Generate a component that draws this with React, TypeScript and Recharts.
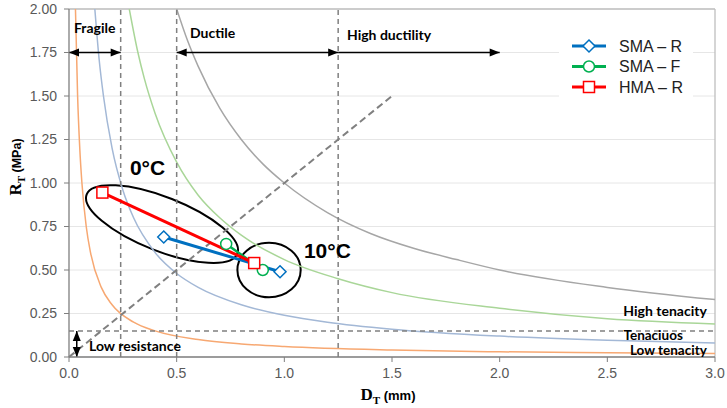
import { LineChart, Line, XAxis, YAxis, CartesianGrid, ReferenceLine, ReferenceArea, ReferenceDot } from "recharts";

const X_TICKS = [0, 0.5, 1, 1.5, 2, 2.5, 3];
const Y_TICKS = [0, 0.25, 0.5, 0.75, 1, 1.25, 1.5, 1.75, 2];

// tenacity curves
const LOW_D = [0.03, 0.04, 0.05, 0.06, 0.08, 0.1, 0.15, 0.2, 0.3, 0.4, 0.6, 0.8, 1.0, 1.5, 2.0, 2.5, 3.0];
const LOW_R = [2.0, 1.5, 1.2, 1.0, 0.75, 0.6, 0.4, 0.3, 0.2, 0.15, 0.1, 0.075, 0.06, 0.04, 0.03, 0.024, 0.02];
const TEN_D = [0.12, 0.14, 0.16, 0.2, 0.25, 0.3, 0.4, 0.5, 0.6, 0.8, 1.0, 1.2, 1.5, 2.0, 2.5, 3.0];
const TEN_R = [2.0, 1.71, 1.5, 1.2, 0.96, 0.8, 0.6, 0.48, 0.4, 0.3, 0.24, 0.2, 0.16, 0.12, 0.096, 0.08];
const HIGH_D = [0.28, 0.32, 0.35, 0.4, 0.5, 0.6, 0.7, 0.8, 1.0, 1.25, 1.5, 2.0, 2.5, 3.0];
const HIGH_R = [2.0, 1.75, 1.6, 1.4, 1.12, 0.93, 0.8, 0.7, 0.56, 0.45, 0.37, 0.28, 0.22, 0.19];
const TOP_D = [0.5, 0.55, 0.6, 0.7, 0.8, 0.9, 1.0, 1.2, 1.4, 1.6, 1.8, 2.0, 2.5, 3.0];
const TOP_R = [2.0, 1.82, 1.67, 1.43, 1.25, 1.11, 1.0, 0.83, 0.71, 0.625, 0.56, 0.5, 0.4, 0.33];

// mixtures
const SERIES_NAMES = ["SMA – R", "SMA – F", "HMA – R"];
const SMA_R_D = [0.44, 0.98];
const SMA_R_R = [0.69, 0.49];
const SMA_F_D = [0.73, 0.9];
const SMA_F_R = [0.65, 0.5];
const HMA_R_D = [0.155, 0.86];
const HMA_R_R = [0.945, 0.54];

// zone limits
const DUCT_LIMITS = [0.24, 0.5, 1.25];
const LOW_RES_LIMIT = 0.15;
const DIAG_END = 1.5;

// arrows
const ARROW_D1 = [0, 0.5, 1.25, 0.036];
const ARROW_D2 = [0.24, 1.25, 2.0, 0.036];
const ARROW_R1 = [1.75, 1.75, 1.75, 0];
const ARROW_R2 = [1.75, 1.75, 1.75, 0.15];
const ARROW_BOTH = [true, true, false, true];

// zone labels
const NOTE_TEXT = ["Fragile", "Ductile", "High ductility", "Low resistance", "High tenacity", "Tenaciuos", "Low tenacity"];
const NOTE_D = [0.023, 0.562, 1.291, 0.093, 2.962, 2.575, 2.962];
const NOTE_R = [1.862, 1.833, 1.822, 0.034, 0.236, 0.1, 0.012];
const NOTE_END = [false, false, false, false, true, false, true];

// temperature groups
const TEMP_TEXT = ["0°C", "10°C"];
const TEMP_D = [0.283, 1.091];
const TEMP_R = [1.046, 0.569];
const ELL_D1 = [0.056, 0.782];
const ELL_D2 = [0.808, 1.076];
const ELL_R1 = [0.609, 0.343];
const ELL_R2 = [0.919, 0.657];
const ELL_ANGLE = [21.5, 0];

const pts = (d: number[], r: number[]) => d.map((x, i) => ({ d: x, r: r[i] }));

const C_BLUE = "#0070C0";
const C_GREEN = "#00B050";
const C_RED = "#FF0000";
const SERIES_COLORS = [C_BLUE, C_GREEN, C_RED];
const NOTE_FONT = "Lato, 'Open Sans', sans-serif";
const AX_FONT = "'Liberation Sans', Arial, sans-serif";

function Marker({ kind, cx, cy, color }: any) {
  if (kind === 0)
    return <path d={`M${cx},${cy - 6} L${cx + 6},${cy} L${cx},${cy + 6} L${cx - 6},${cy} Z`} fill="#fff" stroke={color} strokeWidth={1.5} />;
  if (kind === 1) return <circle cx={cx} cy={cy} r={5.5} fill="#fff" stroke={color} strokeWidth={1.5} />;
  return <rect x={cx - 5.5} y={cy - 5.5} width={11} height={11} fill="#fff" stroke={color} strokeWidth={1.5} />;
}

function Arrow({ x1, y1, x2, y2, both }: any) {
  const len = Math.hypot(x2 - x1, y2 - y1) || 1;
  const ux = (x2 - x1) / len;
  const uy = (y2 - y1) / len;
  const head = (x: number, y: number, dx: number, dy: number) => {
    const bx = x - dx * 10;
    const by = y - dy * 10;
    return `${x},${y} ${bx - dy * 4},${by + dx * 4} ${bx + dy * 4},${by - dx * 4}`;
  };
  return (
    <g>
      <line x1={x1} y1={y1} x2={x2} y2={y2} stroke="#000" strokeWidth={1.5} />
      <polygon points={head(x2, y2, ux, uy)} fill="#000" />
      {both && <polygon points={head(x1, y1, -ux, -uy)} fill="#000" />}
    </g>
  );
}

export default function App() {
  const series = [pts(SMA_R_D, SMA_R_R), pts(SMA_F_D, SMA_F_R), pts(HMA_R_D, HMA_R_R)];
  const curves = [
    { data: pts(LOW_D, LOW_R), color: "#F7A872" },
    { data: pts(TEN_D, TEN_R), color: "#A3B8D6" },
    { data: pts(HIGH_D, HIGH_R), color: "#A9D698" },
    { data: pts(TOP_D, TOP_R), color: "#A6A6A6" },
  ];

  return (
    <div style={{ position: "absolute", left: 0, top: 0, width: 727, height: 408, background: "#fff" }}>
      <LineChart width={727} height={408} margin={{ top: 9, right: 12, left: 0, bottom: 0 }}>
        <CartesianGrid vertical={false} stroke="#E6E6E6" />
        <XAxis
          dataKey="d"
          type="number"
          domain={[0, 3]}
          ticks={X_TICKS}
          tickFormatter={(v) => v.toFixed(1)}
          height={51}
          tickSize={5}
          tickMargin={6}
          axisLine={{ stroke: "#7F7F7F", strokeWidth: 1.3 }}
          tickLine={{ stroke: "#7F7F7F" }}
          tick={{ fontSize: 14, fill: "#595959", fontFamily: AX_FONT }}
          allowDataOverflow
        />
        <YAxis
          type="number"
          domain={[0, 2]}
          ticks={Y_TICKS}
          tickFormatter={(v) => v.toFixed(2)}
          width={69}
          tickSize={5}
          tickMargin={7}
          axisLine={{ stroke: "#7F7F7F", strokeWidth: 1.3 }}
          tickLine={{ stroke: "#7F7F7F" }}
          tick={{ fontSize: 14, fill: "#595959", fontFamily: AX_FONT }}
          allowDataOverflow
        />
        <ReferenceLine y={2} stroke="#BFBFBF" strokeWidth={1.3} />
        <ReferenceLine x={3} stroke="#BFBFBF" strokeWidth={1.3} />

        {curves.map((c, i) => (
          <Line
            key={"c" + i}
            data={c.data}
            dataKey="r"
            type="monotone"
            stroke={c.color}
            strokeWidth={1.5}
            dot={false}
            activeDot={false}
            isAnimationActive={false}
          />
        ))}

        {DUCT_LIMITS.map((d) => (
          <ReferenceLine key={"v" + d} x={d} stroke="#808080" strokeWidth={1.5} strokeDasharray="5 4" />
        ))}
        <ReferenceLine y={LOW_RES_LIMIT} stroke="#808080" strokeWidth={1.5} strokeDasharray="5 4" />
        <ReferenceLine
          segment={[{ x: 0, y: 0 }, { x: DIAG_END, y: DIAG_END }]}
          stroke="#808080"
          strokeWidth={2}
          strokeDasharray="7 4"
        />

        {ARROW_D1.map((d, i) => (
          <ReferenceLine
            key={"a" + i}
            segment={[{ x: d, y: ARROW_R1[i] }, { x: ARROW_D2[i], y: ARROW_R2[i] }]}
            shape={(p: any) => <Arrow {...p} both={ARROW_BOTH[i]} />}
          />
        ))}

        {NOTE_TEXT.map((t, i) => (
          <ReferenceDot
            key={"n" + i}
            x={NOTE_D[i]}
            y={NOTE_R[i]}
            shape={(p: any) => (
              <text
                x={p.cx}
                y={p.cy}
                textAnchor={NOTE_END[i] ? "end" : "start"}
                fontFamily={NOTE_FONT}
                fontWeight={700}
                fontSize={i >= 5 ? 13.5 : 14}
                fill="#000"
              >
                {t}
              </text>
            )}
          />
        ))}

        {TEMP_TEXT.map((t, i) => (
          <ReferenceArea
            key={"e" + i}
            x1={ELL_D1[i]}
            x2={ELL_D2[i]}
            y1={ELL_R1[i]}
            y2={ELL_R2[i]}
            shape={(p: any) => {
              const cx = p.x + p.width / 2;
              const cy = p.y + p.height / 2;
              return (
                <ellipse
                  cx={cx}
                  cy={cy}
                  rx={Math.abs(p.width) / 2}
                  ry={Math.abs(p.height) / 2}
                  transform={`rotate(${ELL_ANGLE[i]} ${cx} ${cy})`}
                  fill="none"
                  stroke="#000"
                  strokeWidth={2}
                />
              );
            }}
          />
        ))}
        {TEMP_TEXT.map((t, i) => (
          <ReferenceDot
            key={"t" + i}
            x={TEMP_D[i]}
            y={TEMP_R[i]}
            shape={(p: any) => (
              <text x={p.cx} y={p.cy} fontFamily={AX_FONT} fontWeight={700} fontSize={21} fill="#000">
                {t}
              </text>
            )}
          />
        ))}

        {series.map((s, i) => (
          <Line
            key={"s" + i}
            data={s}
            dataKey="r"
            name={SERIES_NAMES[i]}
            type="linear"
            stroke={SERIES_COLORS[i]}
            strokeWidth={i === 1 ? 2.5 : 3}
            dot={(p: any) => <Marker key={p.index} kind={i} cx={p.cx} cy={p.cy} color={SERIES_COLORS[i]} />}
            activeDot={false}
            isAnimationActive={false}
          />
        ))}
      </LineChart>

      {/* axis titles */}
      <svg width={727} height={408} style={{ position: "absolute", left: 0, top: 0, pointerEvents: "none" }}>
        <text transform="translate(21,167) rotate(-90)" textAnchor="middle" fill="#000">
          <tspan fontFamily="'Liberation Serif', 'Times New Roman', serif" fontWeight={700} fontSize={17}>R</tspan>
          <tspan fontFamily="'Liberation Serif', 'Times New Roman', serif" fontWeight={700} fontSize={11} dy={4}>T</tspan>
          <tspan fontFamily={AX_FONT} fontWeight={700} fontSize={12.5} dy={-4}> (MPa)</tspan>
        </text>
        <text x={388} y={400} textAnchor="middle" fill="#000">
          <tspan fontFamily="'Liberation Serif', 'Times New Roman', serif" fontWeight={700} fontSize={17}>D</tspan>
          <tspan fontFamily="'Liberation Serif', 'Times New Roman', serif" fontWeight={700} fontSize={11} dy={4}>T</tspan>
          <tspan fontFamily={AX_FONT} fontWeight={700} fontSize={13} dy={-4}> (mm)</tspan>
        </text>
      </svg>

      {/* legend */}
      <svg width={134} height={68} style={{ position: "absolute", left: 559, top: 31, background: "#fff" }}>
        {SERIES_NAMES.map((n, i) => {
          const y = 15 + i * 20.5;
          return (
            <g key={n}>
              <line x1={13} y1={y} x2={47} y2={y} stroke={SERIES_COLORS[i]} strokeWidth={3} />
              <Marker kind={i} cx={30} cy={y} color={SERIES_COLORS[i]} />
              <text x={60} y={y + 5.5} fontFamily={AX_FONT} fontSize={16} fill="#222">
                {n}
              </text>
            </g>
          );
        })}
      </svg>
    </div>
  );
}
